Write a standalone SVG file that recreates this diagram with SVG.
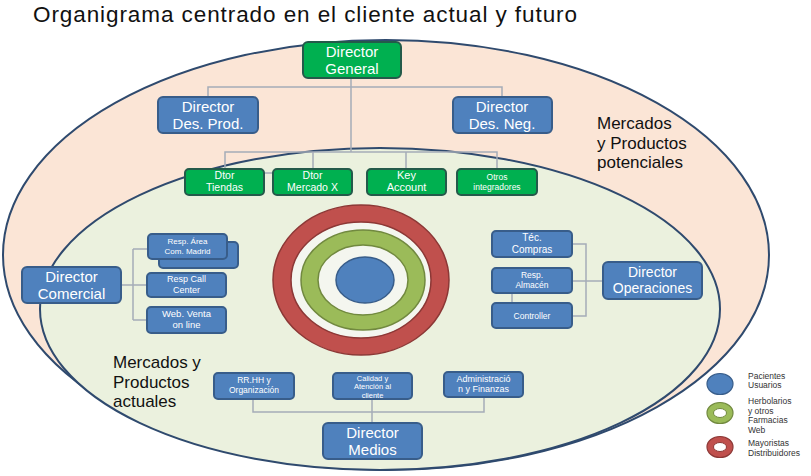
<svg xmlns="http://www.w3.org/2000/svg" width="811" height="476" viewBox="0 0 811 476">
<style>
text{font-family:"Liberation Sans","Open Sans",Arial,sans-serif;}
.t{text-anchor:middle;fill:#ffffff;}
.b{fill:#4f81bd;stroke:#385d8a;stroke-width:2;}
.g{fill:#00b050;stroke:#245a4a;stroke-width:2;}
.c{fill:none;stroke:#a5acb8;stroke-width:1.5;}
.lbl{fill:#111111;font-size:17px;}
.leg{fill:#333333;font-size:8.5px;}
</style>
<rect x="0" y="0" width="811" height="476" fill="#ffffff"/>
<text x="33" y="22" textLength="544" lengthAdjust="spacing" style="font-size:22.5px;fill:#111">Organigrama  centrado en el cliente actual y futuro</text>
<g id="ellipses">
<ellipse cx="386" cy="255" rx="383" ry="215" fill="#fbe5d6" stroke="#2f4a6e" stroke-width="2"/>
<ellipse cx="380" cy="309" rx="340" ry="161" fill="#ebf1de" stroke="#2f4a6e" stroke-width="2"/>
</g>
<g id="target">
<ellipse cx="361" cy="280" rx="88" ry="75" fill="#c0504d" stroke="#8c3836" stroke-width="1.5"/>
<ellipse cx="361" cy="280" rx="70" ry="58" fill="#f4f6ef" stroke="#8c3836" stroke-width="1.5"/>
<ellipse cx="363" cy="280" rx="62" ry="50" fill="#9bbb59" stroke="#71893f" stroke-width="1.5"/>
<ellipse cx="363" cy="280" rx="45" ry="35" fill="#f4f6ef" stroke="#71893f" stroke-width="1.5"/>
<ellipse cx="365" cy="280" rx="29" ry="23" fill="#4f81bd" stroke="#385d8a" stroke-width="1.5"/>
</g>
<g id="connectors">
<path class="c" d="M351 78V152M208 97V87H502V97M225 169V152H497V169M313 152V169M406 152V169M264 173H273"/>
<path class="c" d="M121 285H147M133 249V320M133 249H148M133 320H147"/>
<path class="c" d="M572 244H586V316H572M572 281H603M512 293V303"/>
<path class="c" d="M253 399V412H484V397M372 399V423"/>
</g>
<g id="director-general"><rect class="g" x="303" y="42" width="98" height="36" rx="5"/><text class="t" font-size="15"><tspan x="352" y="56.5">Director</tspan><tspan x="352" y="73.5">General</tspan></text></g>
<g id="director-des-prod"><rect class="b" x="158" y="97" width="100" height="36" rx="5"/><text class="t" font-size="15"><tspan x="208" y="111.5">Director</tspan><tspan x="208" y="128.5">Des. Prod.</tspan></text></g>
<g id="director-des-neg"><rect class="b" x="453" y="97" width="99" height="36" rx="5"/><text class="t" font-size="15"><tspan x="502" y="111.5">Director</tspan><tspan x="502" y="128.5">Des. Neg.</tspan></text></g>
<g id="dtor-tiendas"><rect class="g" x="185" y="169" width="79" height="26" rx="4"/><text class="t" font-size="10.5"><tspan x="224.5" y="178.5">Dtor</tspan><tspan x="224.5" y="190.5">Tiendas</tspan></text></g>
<g id="dtor-mercado-x"><rect class="g" x="273" y="169" width="79" height="26" rx="4"/><text class="t" font-size="10.5"><tspan x="312.5" y="178.5">Dtor</tspan><tspan x="312.5" y="190.5">Mercado X</tspan></text></g>
<g id="key-account"><rect class="g" x="367" y="169" width="79" height="26" rx="4"/><text class="t" font-size="11"><tspan x="406.5" y="178.5">Key</tspan><tspan x="406.5" y="191">Account</tspan></text></g>
<g id="otros-integradores"><rect class="g" x="457" y="169" width="80" height="26" rx="4"/><text class="t" font-size="8.5"><tspan x="497" y="179.5">Otros</tspan><tspan x="497" y="189.5">integradores</tspan></text></g>
<g id="director-comercial"><rect class="b" x="22" y="267" width="99" height="36" rx="5"/><text class="t" font-size="15"><tspan x="71.5" y="281.5">Director</tspan><tspan x="71.5" y="298.5">Comercial</tspan></text></g>
<g id="resp-area-barcelona"><rect class="b" x="159" y="242" width="79" height="26" rx="4"/></g>
<g id="resp-area-madrid"><rect class="b" x="148" y="234" width="79" height="25" rx="4"/><text class="t" font-size="8"><tspan x="187.5" y="244">Resp. Área</tspan><tspan x="187.5" y="253.5">Com. Madrid</tspan></text></g>
<g id="resp-call-center"><rect class="b" x="147" y="273" width="79" height="24" rx="4"/><text class="t" font-size="9"><tspan x="186.5" y="282">Resp Call</tspan><tspan x="186.5" y="292.5">Center</tspan></text></g>
<g id="web-venta"><rect class="b" x="147" y="307" width="79" height="26" rx="4"/><text class="t" font-size="9.5"><tspan x="186.5" y="317">Web. Venta</tspan><tspan x="186.5" y="328">on line</tspan></text></g>
<g id="tec-compras"><rect class="b" x="492" y="231" width="80" height="26" rx="4"/><text class="t" font-size="10"><tspan x="532" y="241">Téc.</tspan><tspan x="532" y="252.5">Compras</tspan></text></g>
<g id="resp-almacen"><rect class="b" x="492" y="268" width="80" height="25" rx="4"/><text class="t" font-size="8.5"><tspan x="532" y="277.5">Resp.</tspan><tspan x="532" y="287.5">Almacén</tspan></text></g>
<g id="controller"><rect class="b" x="492" y="303" width="80" height="25" rx="4"/><text class="t" x="532" y="319" font-size="8.5">Controller</text></g>
<g id="director-operaciones"><rect class="b" x="603" y="262" width="99" height="37" rx="5"/><text class="t" font-size="14"><tspan x="652.5" y="277">Director</tspan><tspan x="652.5" y="293">Operaciones</tspan></text></g>
<g id="rrhh"><rect class="b" x="214" y="373" width="80" height="26" rx="4"/><text class="t" font-size="8.5"><tspan x="254" y="383">RR.HH y</tspan><tspan x="254" y="393">Organización</tspan></text></g>
<g id="calidad"><rect class="b" x="333" y="373" width="79" height="26" rx="4"/><text class="t" font-size="7.5"><tspan x="372.5" y="380.5">Calidad y</tspan><tspan x="372.5" y="389">Atención al</tspan><tspan x="372.5" y="397.5">cliente</tspan></text></g>
<g id="administracion"><rect class="b" x="444" y="372" width="79" height="25" rx="4"/><text class="t" font-size="9"><tspan x="483.5" y="381.5">Administració</tspan><tspan x="483.5" y="392">n y Finanzas</tspan></text></g>
<g id="director-medios"><rect class="b" x="323" y="423" width="99" height="36" rx="5"/><text class="t" font-size="15"><tspan x="372.5" y="437.5">Director</tspan><tspan x="372.5" y="454.5">Medios</tspan></text></g>
<g id="labels">
<text class="lbl"><tspan x="597" y="129">Mercados</tspan><tspan x="597" y="148.5">y Productos</tspan><tspan x="597" y="168">potenciales</tspan></text>
<text class="lbl"><tspan x="113" y="368">Mercados y</tspan><tspan x="113" y="387.5">Productos</tspan><tspan x="113" y="407">actuales</tspan></text>
</g>
<g id="legend">
<ellipse cx="720" cy="384" rx="13" ry="10.5" fill="#4f81bd" stroke="#385d8a" stroke-width="1.2"/>
<ellipse cx="720" cy="413" rx="13" ry="10.5" fill="#9bbb59" stroke="#71893f" stroke-width="1.2"/>
<ellipse cx="720" cy="413" rx="6.5" ry="4.5" fill="#ffffff" stroke="#71893f" stroke-width="1"/>
<ellipse cx="720" cy="447" rx="13" ry="10.5" fill="#c0504d" stroke="#8c3836" stroke-width="1.2"/>
<ellipse cx="720" cy="447" rx="6.5" ry="4.5" fill="#ffffff" stroke="#8c3836" stroke-width="1"/>
<text class="leg"><tspan x="748" y="378.5">Pacientes</tspan><tspan x="748" y="388.2">Usuarios</tspan></text>
<text class="leg"><tspan x="748" y="404">Herbolarios</tspan><tspan x="748" y="413.7">y otros</tspan><tspan x="748" y="423.4">Farmacias</tspan><tspan x="748" y="433.1">Web</tspan></text>
<text class="leg"><tspan x="748" y="446">Mayoristas</tspan><tspan x="748" y="455.7">Distribuidores</tspan></text>
</g>
</svg>
